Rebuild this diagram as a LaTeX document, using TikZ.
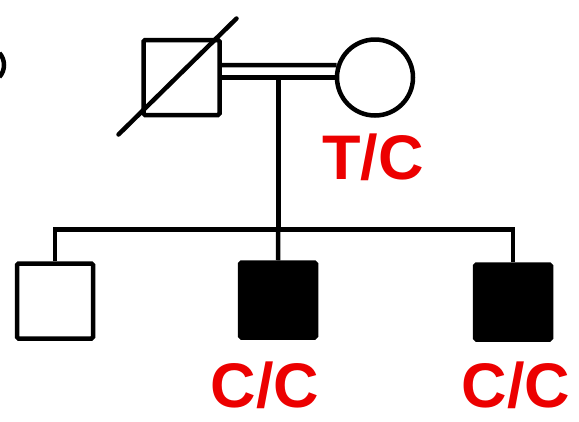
\documentclass[tikz,border=0pt]{standalone}
\usepackage{fontspec}
\setmainfont{Liberation Sans}
\usetikzlibrary{calc}
\definecolor{gtred}{RGB}{236,0,0}

\tikzset{
  lw/.style={line width=4.5pt},
  male/.style={lw,draw,rectangle,minimum width=76pt,minimum height=75pt,rounded corners=1.5pt},
  affected/.style={male,fill=black},
  female/.style={lw,draw,circle,minimum size=76pt},
  gt/.style={text=gtred,font=\bfseries\fontsize{63}{63}\selectfont,inner sep=0pt}
}

\begin{document}
\begin{tikzpicture}[x=1pt,y=-1pt]
  \useasboundingbox[fill=white] (0,0) rectangle (579,421);
  % cut-off mark at the left edge
  \draw[lw] (-14,65) ++(-42:18) arc (-42:42:18);
  % parents
  \node[male] (fa) at (181.5,77.5) {};
  \node[female] (mo) at (375,77.5) {};
  \draw[lw,line cap=round] ($(fa.center)+(-63,57)$) -- ($(fa.center)+(55,-59)$);
  \draw[lw] (fa.east) -- (mo.west);
  \draw[lw] ([yshift=12.5pt]fa.east) -- (mo.162);
  \node[gt] (gmo) at (373,157) {T/C};
  % children
  \node[male] (c1) at (55,301) {};
  \node[affected] (c2) at (278,300) {};
  \node[affected] (c3) at (513,302) {};
  \coordinate (mid) at ($(fa.east)!0.5!(mo.west)$);
  \coordinate (sib) at (mid |- 0,229.5);
  \draw[lw] (mid) -- (sib);
  \draw[lw] (c1.north) |- (sib) -| (c3.north);
  \draw[lw] (sib) -- (c2.north);
  \node[gt] (gc2) at (265,385) {C/C};
  \node[gt] (gc3) at (516,385) {C/C};
\end{tikzpicture}
\end{document}
